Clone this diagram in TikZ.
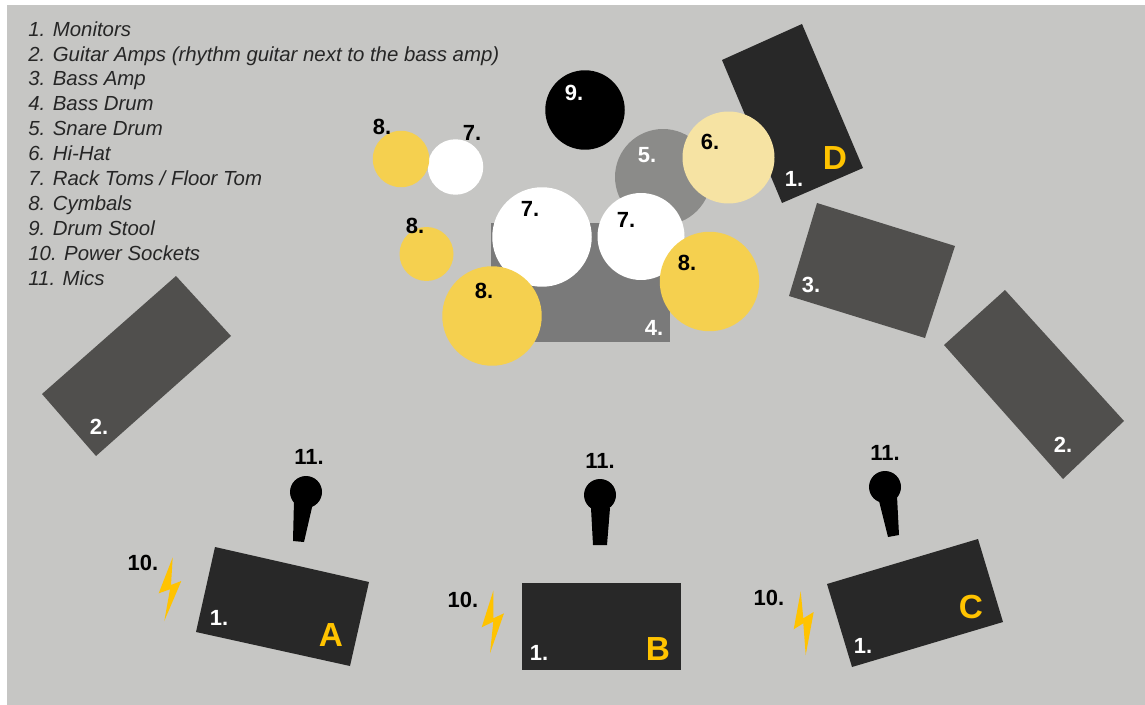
\documentclass[tikz,border=0pt]{standalone}
\usepackage{fontspec}
\setmainfont{Liberation Sans}
\definecolor{stagegray}{HTML}{C6C6C4}
\definecolor{monitordark}{HTML}{282828}
\definecolor{ampgray}{HTML}{504F4D}
\definecolor{bassgray}{HTML}{7A7A7A}
\definecolor{snaregray}{HTML}{8B8B89}
\definecolor{cymbalyellow}{HTML}{F5D04F}
\definecolor{hihatyellow}{HTML}{F6E3A3}
\definecolor{zoneyellow}{HTML}{FFC300}
\tikzset{
  disc/.style={circle,inner sep=0pt,minimum size=#1},
  numblack/.style={inner sep=0pt,font=\fontsize{12.5}{15}\selectfont\bfseries,text=black},
  numwhite/.style={inner sep=0pt,font=\fontsize{12.5}{15}\selectfont\bfseries,text=white},
  zoneletter/.style={inner sep=0pt,font=\fontsize{19}{22}\selectfont\bfseries,text=zoneyellow}
}

\begin{document}
\begin{tikzpicture}[x=0.02cm,y=-0.02cm]
\useasboundingbox (0,0) rectangle (1145,705);
\fill[stagegray] (7,5) rectangle (1145,705);
% legend
\node[anchor=north west,inner sep=0pt,align=left,text=black!85,font=\fontsize{11.6}{14.17}\selectfont\itshape] (legend) at (28,21) {1. Monitors\\2. Guitar Amps (rhythm guitar next to the bass amp)\\3. Bass Amp\\4. Bass Drum\\5. Snare Drum\\6. Hi-Hat\\7. Rack Toms / Floor Tom\\8. Cymbals\\9. Drum Stool\\10. Power Sockets\\11. Mics};
% amps and monitors
\fill[monitordark] (802,24)--(722,60)--(782,203)--(863,168)--cycle;
\fill[ampgray] (817,203)--(955,246)--(925,338)--(789,296)--cycle;
\fill[ampgray] (1005,290)--(1124,421)--(1063,479)--(944,345)--cycle;
\fill[ampgray] (176,276)--(231,336)--(96,456)--(42,394)--cycle;
\fill[monitordark] (215,547)--(369,582)--(350,666)--(196,632)--cycle;
\fill[monitordark] (522,583) rectangle (681,670);
\fill[monitordark] (978,539)--(827,584)--(852,667)--(1003,622)--cycle;
% drum kit
\fill[bassgray] (491,223) rectangle (670,342);
\node[disc=1.92cm,fill=snaregray] (snare) at (663,177) {};
\node[disc=1.11cm,fill=white] (tom_a) at (455.5,167) {};
\node[disc=1.99cm,fill=white] (tom_b) at (542,237) {};
\node[disc=1.74cm,fill=white] (tom_c) at (641,236.5) {};
\node[disc=1.84cm,fill=hihatyellow] (hihat) at (728.5,157.5) {};
\node[disc=1.13cm,fill=cymbalyellow] (cymbal_a) at (401,159) {};
\node[disc=1.08cm,fill=cymbalyellow] (cymbal_b) at (426.5,254) {};
\node[disc=1.99cm,fill=cymbalyellow] (cymbal_c) at (492,316) {};
\node[disc=1.99cm,fill=cymbalyellow] (cymbal_d) at (709.5,281.5) {};
\node[disc=1.59cm,fill=black] (stool) at (585,110) {};
% mics
\node[disc=0.64cm,fill=black] (mic_a) at (306,492) {};
\fill[black] (294,500)--(313,503)--(304,542)--(293,541)--cycle;
\node[disc=0.64cm,fill=black] (mic_b) at (600,495) {};
\fill[black] (591,508)--(610,508)--(607,545)--(593,545)--cycle;
\node[disc=0.64cm,fill=black] (mic_c) at (885,487) {};
\fill[black] (878,497)--(897,496)--(899,535)--(888,537)--cycle;
% power bolts
\fill[zoneyellow] (172.7,557.3)--(158.7,593.3)--(170,589.3)--(164.3,621)--(181.3,581)--(171,585)--cycle;
\fill[zoneyellow] (493.3,590.7)--(481.7,627.3)--(493.3,621.7)--(490,653.3)--(504,613.3)--(493.3,618.3)--cycle;
\fill[zoneyellow] (800.7,591.3)--(793.7,629.3)--(803.3,623.3)--(805.7,655)--(813.7,612)--(803.3,618.3)--cycle;
% labels
\node[numblack] (lab_cym_a) at (382,127) {8.};
\node[numblack] (lab_tom_a) at (472,133) {7.};
\node[numwhite] (lab_stool) at (574,93) {9.};
\node[numwhite] (lab_snare) at (647,155) {5.};
\node[numblack] (lab_hihat) at (710,142) {6.};
\node[numblack] (lab_cym_b) at (415,226) {8.};
\node[numblack] (lab_tom_b) at (530,209) {7.};
\node[numblack] (lab_tom_c) at (626,220) {7.};
\node[numblack] (lab_cym_d) at (687,263) {8.};
\node[numblack] (lab_cym_c) at (484,291) {8.};
\node[numwhite] (lab_bass) at (654,328) {4.};
\node[numwhite] (lab_amp_b) at (811,285) {3.};
\node[numwhite] (lab_amp_l) at (99,427) {2.};
\node[numwhite] (lab_amp_r) at (1063,445) {2.};
\node[numwhite] (lab_mon_d) at (794,179) {1.};
\node[numwhite] (lab_mon_a) at (219,618) {1.};
\node[numwhite] (lab_mon_b) at (539,653) {1.};
\node[numwhite] (lab_mon_c) at (863,646) {1.};
\node[zoneletter] (zone_d) at (835,158) {D};
\node[zoneletter] (zone_a) at (331,635) {A};
\node[zoneletter] (zone_b) at (658,649) {B};
\node[zoneletter] (zone_c) at (971,607) {C};
\node[numblack] (lab_mic_a) at (309,457) {11.};
\node[numblack] (lab_mic_b) at (600,461) {11.};
\node[numblack] (lab_mic_c) at (885,453) {11.};
\node[numblack] (lab_pow_a) at (143,563) {10.};
\node[numblack] (lab_pow_b) at (463,600) {10.};
\node[numblack] (lab_pow_c) at (769,598) {10.};
\end{tikzpicture}
\end{document}
